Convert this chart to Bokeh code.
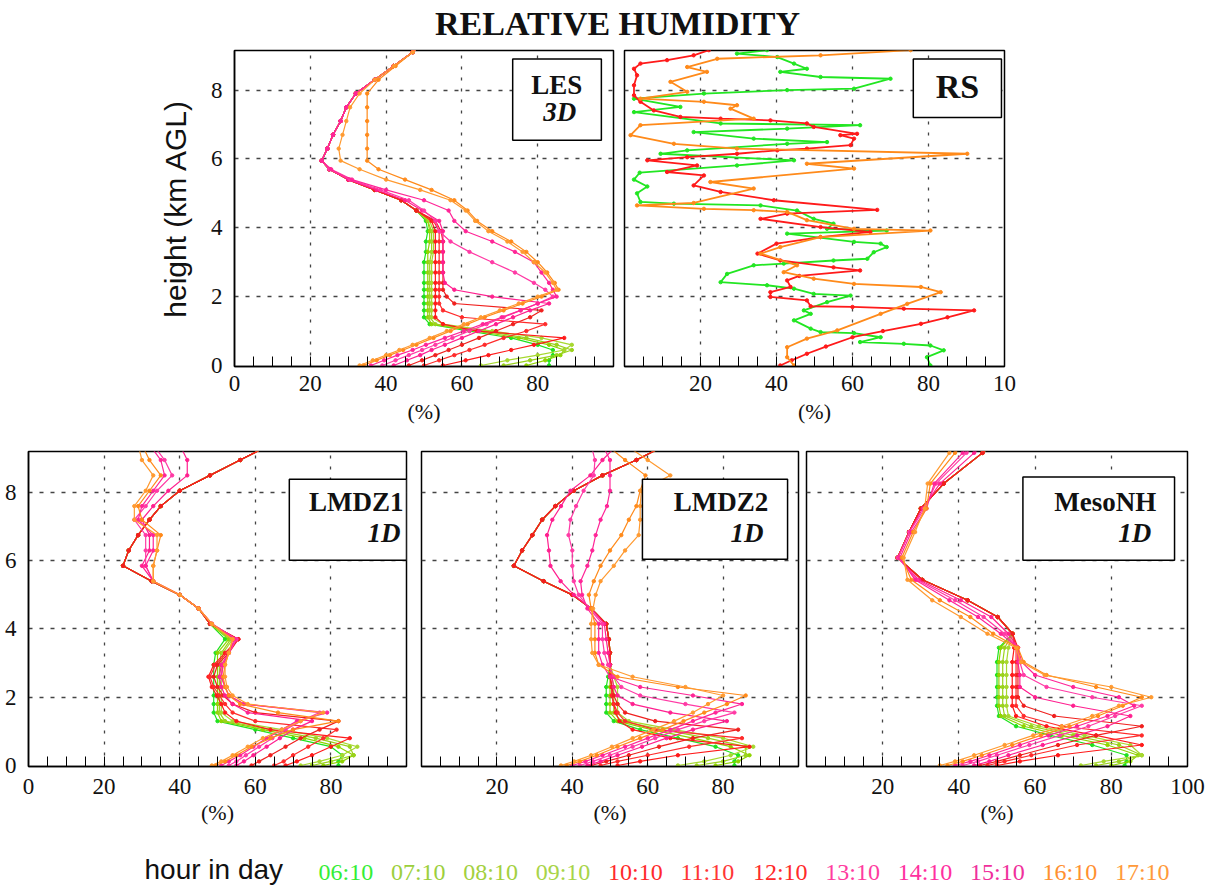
from bokeh.plotting import figure
from bokeh.models import Range1d, FixedTicker, Label, BoxAnnotation
from bokeh.layouts import column, row
from bokeh.embed import file_html
from bokeh.resources import INLINE

SERIF = "Liberation Serif"
SANS = "Liberation Sans"

# ---------------- data ----------------
HOURS = ["06:10", "07:10", "08:10", "09:10", "10:10", "11:10",
         "12:10", "13:10", "14:10", "15:10", "16:10", "17:10"]
COLORS = ["#1fe21f", "#8fd400", "#9ad21c", "#a6d82e", "#ff1a1a", "#ff2b2b",
          "#f0201e", "#ff1f8f", "#ff3aa5", "#ff2597", "#ff8a1a", "#ff9a30"]
LEGEND_COLORS = ["#35ee35", "#9ccf3c", "#a3d040", "#a8d448", "#ff2a2a", "#ff3636",
                 "#ff2a2a", "#ff3ca0", "#ff30a0", "#f0309c", "#ff9030", "#ff9a3a"]

# LES 3D (height km, RH % per hour)
LES_Z = [0.0, 0.15, 0.3, 0.45, 0.6, 0.8, 1.0, 1.2, 1.4, 1.6, 1.8, 2.0, 2.2, 2.4, 2.7,
         3.0, 3.3, 3.6, 3.9, 4.2, 4.5, 4.8, 5.1, 5.4, 5.7, 5.95, 6.3, 6.7, 7.1, 7.5,
         7.9, 8.3, 8.7, 9.1, 9.4]
LES_RH = [
    [83, 83, 84, 84, 80, 73, 62, 51.5, 50, 50, 50, 50, 50, 50, 50, 50, 50.5, 50.5, 51, 50.5,
     48, 44, 37, 30, 25, 23, 24.5, 26, 28, 29.5, 32, 37, 42, 47, 50],
    [77, 82, 86, 87, 83, 75, 64, 52, 51, 51, 51, 51, 51, 51, 51, 51, 51, 51.5, 51.5, 51,
     48, 44, 37, 30, 25, 23, 24.5, 26, 28, 29.5, 32, 37, 42, 47, 50],
    [71, 78, 85, 89, 85, 77, 66, 53, 51.5, 51.5, 51.5, 51.5, 51.5, 51.5, 51.5, 51.5, 52, 52, 52, 51,
     48, 44, 37, 30, 25, 23, 24.5, 26, 28, 29.5, 32, 37, 42, 47, 50],
    [65, 72, 80, 87, 89, 81, 68, 55, 52, 52, 52, 52, 52, 52, 52, 52, 52.5, 52.5, 52.5, 51.5,
     48, 44, 37, 30, 25, 23, 24.5, 26, 28, 29.5, 32, 37, 42, 47, 50],
    [55, 61, 67, 73, 79, 87, 64, 55, 53, 53, 53, 53, 53, 53, 53, 53, 53, 53, 53, 52,
     48, 44, 37, 30, 25, 23, 24.5, 26, 28, 29.5, 32, 37, 42, 47, 50],
    [50, 54, 58, 62, 66, 71, 77, 82, 60, 55, 54, 54, 54, 54, 54, 54, 54, 54, 54, 52.5,
     48, 44, 37, 30, 25, 23, 24.5, 26, 28, 29.5, 32, 37, 42, 47, 50],
    [46, 49.5, 53, 56.5, 60, 64.5, 69, 73.5, 78, 81, 58, 56, 55, 55, 55, 55, 55, 55, 54.5, 53,
     48, 44, 37, 30, 25, 23, 24.5, 26, 28, 29.5, 32, 37, 42, 47, 50],
    [42, 45.5, 49, 52, 55.5, 60, 64.5, 69, 73.5, 78, 83, 68, 58, 55.5, 55, 55, 55, 55, 55, 54,
     49.5, 45, 37.5, 30, 25, 23, 24.5, 26, 28, 29.5, 32, 37, 42, 47, 50],
    [39, 42.5, 46, 49.5, 53, 57.5, 62, 66.5, 71, 75.5, 80, 84, 82, 79, 74, 68, 62, 57, 54, 53,
     50, 46, 38.5, 30.5, 25, 23, 24.5, 26, 28, 29.5, 32, 37, 42, 47, 50],
    [36, 39.5, 43, 47, 50.5, 55.5, 60.5, 65.5, 70.5, 75.5, 80, 85, 84, 83, 81, 79, 74, 68, 61, 58,
     56.5, 50, 40, 31, 25.5, 23, 24.5, 26, 28, 29.5, 32, 37, 42, 47, 50],
    [34, 37.5, 41, 44.5, 48, 52.5, 57, 61.5, 66, 71, 76, 81, 85.5, 84.5, 82.5, 80, 77, 73, 68, 64,
     61.5, 58, 52, 45, 38, 35, 35, 35, 35, 35, 35, 38, 42.5, 47, 50],
    [33, 36.5, 40, 43.5, 47, 51.5, 56, 60.5, 65, 70, 75, 80, 85, 84, 82, 79, 76, 72, 67, 63.5,
     61, 57, 49, 40, 33, 28, 27.5, 28.5, 29.5, 30.5, 33, 37, 42, 47, 50],
]

# Radiosondes (three launches)
RS_GREEN_RH = [80.5, 79.6, 84, 80.5, 73.5, 62, 67.4, 60.4, 51.6, 49, 44.6, 49, 47.2, 53.3, 59.5,
               49.8, 44.6, 37.5, 25.3, 27, 34, 41.9, 55, 63.9, 65.6, 69, 67.4, 60.4, 42.8, 69,
               53.3, 55, 49.8, 45.4, 35.8, 13, 4.2, 3.3, 6, 2.5, 4, 29.6, 44.6, 9.5, 16.5,
               42.8, 53.3, 34, 18.2, 42.8, 62, 25.3, 2.5, 14.7, 2.5, 20.9, 42.8, 60.4, 70, 51.6,
               41, 48, 44.6, 40.2, 29.6, 37.5]
RS_GREEN_Z = [0.0, 0.24, 0.44, 0.58, 0.63, 0.68, 0.82, 0.94, 0.97, 1.07, 1.31, 1.5, 1.6, 1.84, 2.03,
              2.08, 2.23, 2.33, 2.42, 2.66, 2.91, 2.96, 3.05, 3.1, 3.29, 3.44, 3.54, 3.59, 3.83, 3.92,
              3.97, 4.12, 4.26, 4.5, 4.65, 4.7, 4.75, 5.0, 5.2, 5.4, 5.6, 5.81, 5.96, 6.15, 6.25,
              6.44, 6.49, 6.59, 6.78, 6.88, 6.98, 7.03, 7.36, 7.51, 7.75, 7.9, 8.0, 8.04, 8.33, 8.38,
              8.53, 8.62, 8.77, 8.96, 9.06, 9.16]
RS_RED_RH = [41, 44, 48, 53, 60, 68, 78, 85, 92, 73.5, 60, 49, 48, 38.4, 38.4, 43.7, 42.8, 46, 62,
             55, 41, 35, 40, 51.6, 64.7, 51.6, 35.8, 42.8, 66.5, 39.3, 25.3, 18.2, 20.9, 11.2, 19.1,
             6, 16.5, 29.6, 40.2, 48, 59.5, 60.4, 56.8, 61.2, 49.8, 48, 38.4, 25.3, 14.7, 7.7, 4.2,
             2.5, 2.5, 3.3, 2.5, 4.2, 11.2, 18.2, 22.2]
RS_RED_Z = [0.0, 0.15, 0.34, 0.55, 0.82, 1.0, 1.21, 1.4, 1.6, 1.65, 1.7, 1.72, 1.89, 1.99, 2.13, 2.28,
            2.47, 2.6, 2.76, 2.85, 3.05, 3.25, 3.54, 3.73, 3.88, 4.02, 4.26, 4.41, 4.52, 4.8, 5.04,
            5.23, 5.52, 5.62, 5.81, 5.96, 6.05, 6.15, 6.25, 6.3, 6.4, 6.59, 6.69, 6.73, 6.93, 7.03,
            7.12, 7.17, 7.22, 7.41, 7.66, 7.85, 8.14, 8.43, 8.62, 8.77, 8.87, 9.01, 9.16]
RS_ORANGE_RH = [44.6, 42.8, 42.8, 48, 56, 67.4, 74.4, 83.2, 78, 60.4, 49.8, 41.9, 45.4, 35.8, 41,
                51.6, 80.5, 60.4, 48, 42.8, 34, 20.9, 3.3, 18.2, 34, 22.6, 60.4, 48, 90.2, 29.6,
                13, 1.6, 4.2, 34, 27.9, 29.6, 20.9, 4.2, 16.5, 12.1, 21.7, 16.5, 24.4, 51.6, 75.3]
RS_ORANGE_Z = [0.0, 0.24, 0.53, 0.78, 1.02, 1.5, 1.79, 2.13, 2.28, 2.37, 2.52, 2.71, 2.91, 3.25, 3.44,
               3.73, 3.92, 3.97, 4.22, 4.46, 4.51, 4.55, 4.65, 4.72, 5.14, 5.33, 5.72, 5.86, 6.15, 6.3,
               6.44, 6.69, 6.98, 7.17, 7.46, 7.56, 7.66, 7.75, 7.95, 8.24, 8.53, 8.67, 8.91, 9.01, 9.16]

# LMDZ single-column model levels (km)
LMDZ_Z = [0.0, 0.12, 0.3, 0.55, 0.8, 1.05, 1.3, 1.55, 1.8, 2.05, 2.3, 2.6, 2.95, 3.3, 3.7,
          4.15, 4.6, 5.0, 5.4, 5.85, 6.3, 6.75, 7.2, 7.6, 8.05, 8.5, 8.95, 9.4]
LMDZ1_RH = [
    [82, 82, 83, 80, 70, 60, 50, 49, 49, 49, 49, 49, 49, 49.5, 52,
     48, 45, 40, 32.6, 25, 26.5, 29, 32, 35, 40, 48, 56, 64],
    [78, 83, 86, 82, 73, 62, 51, 50, 50, 50, 50, 50, 50, 50, 53,
     48, 45, 40, 32.6, 25, 26.5, 29, 32, 35, 40, 48, 56, 64],
    [75, 80, 86, 85, 76, 64, 52, 50.5, 50.5, 50.5, 50.5, 50.5, 50.5, 51, 53.5,
     48, 45, 40, 32.6, 25, 26.5, 29, 32, 35, 40, 48, 56, 64],
    [72, 77, 83, 87, 79, 67, 54, 51, 51, 51, 51, 51, 51, 51.5, 54,
     48, 45, 40, 32.6, 25, 26.5, 29, 32, 35, 40, 48, 56, 64],
    [68, 71, 75, 80, 85, 64, 55, 52, 51, 49.8, 48.5, 47.6, 49, 52, 55.5,
     48, 45, 40, 32.6, 25, 26.5, 29, 32, 35, 40, 48, 56, 64],
    [65, 67.5, 70, 74, 78, 81.5, 60, 54, 52, 50.5, 49, 48, 49.5, 52.5, 55.5,
     48, 45, 40, 32.6, 25, 26.5, 29, 32, 35, 40, 48, 56, 64],
    [59, 61, 64, 68, 72, 77, 82, 60, 54, 51.5, 50, 49, 50, 53, 55.5,
     48, 45, 40, 32.6, 25, 26.5, 29, 32, 35, 40, 48, 56, 64],
    [55, 57, 59.5, 63, 66.5, 70, 75, 58, 54, 52, 51, 50.5, 51, 53, 55,
     48.5, 45, 40, 33, 30, 32, 32, 30, 33, 37, 42, 42, 40],
    [53, 55, 57.5, 61, 64.5, 68, 72, 77, 57, 53, 52, 51, 51.5, 53, 55,
     48.5, 45, 40, 33, 31, 31, 31, 28, 31, 34, 38, 36, 33],
    [51, 53, 56, 59.5, 63, 67, 71, 79, 57, 53, 52, 51, 51.5, 53, 54.5,
     48.5, 45, 40, 33, 31, 33, 33, 29, 30, 33, 36, 35, 32],
    [49.5, 52, 55, 59, 64, 70, 82, 66, 56, 53, 52, 51.5, 52, 53, 54,
     48.5, 45, 40, 33, 33, 34, 35, 30, 29, 32, 35, 32, 30],
    [48.5, 51, 54, 58, 62, 67, 72, 78, 58, 54, 52.5, 52, 52, 53, 54,
     48.5, 45, 40, 33, 33, 34, 34, 28, 28, 31, 33, 30, 29],
]
LMDZ2_RH = [
    [83, 83, 84, 78, 68, 58, 51, 49, 49, 49, 49, 49.5,
     50, 50, 49.7, 49, 45, 40, 32.4, 24.5, 26.7, 29.4, 32, 35.5, 40.4, 48, 57, 65],
    [78, 84, 87, 82, 72, 61, 52, 50, 50, 50, 50, 50,
     50, 50, 49.7, 49, 45, 40, 32.4, 24.5, 26.7, 29.4, 32, 35.5, 40.4, 48, 57, 65],
    [73, 80, 86, 86, 76, 64, 53, 51, 51, 51, 51, 50.5,
     50, 50, 49.7, 49, 45, 40, 32.4, 24.5, 26.7, 29.4, 32, 35.5, 40.4, 48, 57, 65],
    [68, 75, 82, 88, 80, 67, 55, 52, 52, 52, 52, 51,
     50, 50, 49.7, 49, 45, 40, 32.4, 24.5, 26.7, 29.4, 32, 35.5, 40.4, 48, 57, 65],
    [52, 58, 68, 87, 66, 56, 52.5, 51.5, 51, 50.5, 50.5, 50,
     50, 50, 49.7, 49, 45, 40, 32.4, 24.5, 26.7, 29.4, 32, 35.5, 40.4, 48, 57, 65],
    [47.5, 52, 60, 71, 85, 62, 54, 52, 51, 50.5, 50.5, 50,
     50, 50, 49.7, 49, 45, 40, 32.4, 24.5, 26.7, 29.4, 32, 35.5, 40.4, 48, 57, 65],
    [45, 49, 55, 63, 72, 84, 62, 54, 52, 51, 50.5, 50,
     50, 50, 49.7, 49, 45, 40, 32.4, 24.5, 26.7, 29.4, 32, 35.5, 40.4, 48, 57, 65],
    [44, 47.5, 52, 58.5, 65, 72, 81, 66, 56, 52, 51, 50.5,
     50, 49.5, 49, 48.5, 45, 40.4, 36.9, 34.2, 33.8, 33.3, 34.7, 37, 39.5, 44.8, 48, 52],
    [42, 45.5, 50, 56, 62, 68, 75, 83, 70, 58, 53, 51,
     49.5, 48.5, 48, 48, 44.5, 41.7, 40.4, 40, 40, 39, 39.5, 41, 43, 45.7, 46, 45],
    [40, 43.5, 48, 54, 60, 66, 72, 78, 85, 72, 58, 50,
     48, 47, 47, 47, 44, 42.6, 42.2, 44, 45.3, 46.2, 47.5, 49.2, 50, 50, 50, 48],
    [38.5, 42, 46.5, 52, 58, 64, 69.5, 75, 81, 86, 68, 52,
     47, 46, 46, 46, 45, 44.4, 45.7, 47.5, 50, 53, 55, 57, 58, 59.4, 54, 49],
    [37, 40.5, 45, 50.5, 56, 61.5, 67, 72, 76, 80, 70, 56,
     47, 45.3, 45, 45, 45.5, 46.2, 47.5, 51, 54, 57.6, 58, 58, 58.3, 66, 60, 54],
]

# MesoNH single-column levels (km)
MESONH_Z = [0.0, 0.12, 0.3, 0.6, 0.88, 1.15, 1.45, 1.75, 2.0, 2.3, 2.65, 3.03, 3.45,
            3.86, 4.35, 4.84, 5.44, 6.09, 6.84, 7.53, 8.26, 9.16, 9.6]
MESONH_RH = [
    [83.5, 84, 84, 75, 64, 55, 50.5, 50, 50, 50, 50, 50, 50.5,
     54.1, 50.2, 42.3, 30.4, 23.9, 26.9, 30, 36, 46.2, 51],
    [80, 85, 87, 79, 67, 57, 51, 50.5, 50.5, 50.5, 50.5, 50.5, 51,
     54.1, 50.2, 42.3, 30.4, 23.9, 26.9, 30, 36, 46.2, 51],
    [76, 82, 88, 82, 70, 59, 52, 51.5, 51.5, 51.5, 51.5, 51.5, 52,
     54.1, 50.2, 42.3, 30.4, 23.9, 26.9, 30, 36, 46.2, 51],
    [72, 78, 88, 85, 73, 61, 53, 52.5, 52.5, 52.5, 52.5, 52.5, 53,
     54.1, 50.2, 42.3, 30.4, 23.9, 26.9, 30, 36, 46.2, 51],
    [50, 56, 66, 88, 76, 63, 55, 54, 54, 54, 54, 54, 54.5,
     54.1, 50.2, 42.3, 30.4, 23.9, 26.9, 30, 36, 46.2, 51],
    [47.5, 52, 59, 71, 88, 67, 57, 55, 55, 55, 55, 55, 55,
     54.1, 50.2, 42.3, 30.4, 23.9, 26.9, 30, 36, 46.2, 51],
    [45.5, 50, 56, 66, 76, 88, 65, 57, 55.5, 55.5, 55.5, 55.5, 55.5,
     54.1, 50.2, 42.3, 30.4, 23.9, 26.9, 30, 36, 46.2, 51],
    [44, 48, 53, 62, 71, 79, 85, 70, 60, 56, 56, 55.5, 55.5,
     53, 48.5, 40.5, 29.5, 24, 27, 30.5, 35, 44, 49],
    [41, 45, 50, 58.5, 66.5, 74, 81, 88, 75, 63, 57, 56, 55.5,
     52, 46.5, 39, 29, 24, 27, 31, 34, 42, 47],
    [39, 43, 48, 56, 63.5, 71, 79, 86, 82, 70, 60, 56.5, 55.5,
     51, 45, 37.5, 28.5, 24.5, 27.5, 31.5, 33.5, 41, 45],
    [37, 41, 46, 54, 61.5, 69, 76.5, 83, 88, 76, 63, 57, 55.5,
     49, 43, 35, 27.5, 25, 28, 31.5, 32.5, 39, 43],
    [35, 39, 44, 52, 59.5, 67, 75, 82, 90.5, 80, 62.5, 56.3, 55,
     47.5, 40.5, 33, 26.5, 25.5, 28.5, 31, 31.8, 37.5, 41],
]

Y_TICKS = [0, 2, 4, 6, 8]
GRID_X = [20, 40, 60, 80]
GRID_Y = [2, 4, 6, 8]
MINOR_X = [v for v in range(5, 100, 5) if v % 20 != 0]


# ---------------- helpers ----------------
def make_panel(frame_w, frame_h, bl, br, bt, bb, ymax, xticks, with_y,
               tick_std, lab_std, ylabel=None, overrides=None):
    p = figure(frame_width=frame_w, frame_height=frame_h,
               min_border_left=bl, min_border_right=br,
               min_border_top=bt, min_border_bottom=bb,
               x_range=Range1d(0, 100), y_range=Range1d(-0.03, ymax),
               output_backend="svg", toolbar_location=None, title_location=None,
               y_axis_location="left" if with_y else None)
    p.background_fill_color = "white"
    p.border_fill_color = "white"
    p.outline_line_color = "black"
    p.outline_line_width = 1.5
    p.outline_line_alpha = 1.0

    xa = p.xaxis[0]
    xa.ticker = FixedTicker(ticks=xticks, minor_ticks=MINOR_X)
    xa.major_tick_in = 10
    xa.major_tick_out = 0
    xa.minor_tick_in = 10
    xa.minor_tick_out = 0
    xa.major_tick_line_color = "black"
    xa.minor_tick_line_color = "black"
    xa.axis_line_color = "black"
    xa.axis_line_width = 1.5
    xa.major_label_text_font = SERIF
    xa.major_label_text_font_size = "23px"
    xa.major_label_text_color = "#111111"
    xa.major_label_standoff = tick_std
    xa.axis_label = "(%)"
    xa.axis_label_text_font = SERIF
    xa.axis_label_text_font_size = "22px"
    xa.axis_label_text_font_style = "normal"
    xa.axis_label_text_color = "#111111"
    xa.axis_label_standoff = lab_std
    if overrides:
        xa.major_label_overrides = overrides

    if with_y:
        ya = p.yaxis[0]
        ya.ticker = FixedTicker(ticks=Y_TICKS)
        ya.major_tick_line_color = None
        ya.minor_tick_line_color = None
        ya.axis_line_color = "black"
        ya.axis_line_width = 1.5
        ya.major_label_text_font = SERIF
        ya.major_label_text_font_size = "23px"
        ya.major_label_text_color = "#111111"
        ya.major_label_standoff = 6
        if ylabel:
            ya.axis_label = ylabel
            ya.axis_label_text_font = SANS
            ya.axis_label_text_font_size = "30px"
            ya.axis_label_text_font_style = "normal"
            ya.axis_label_text_color = "#111111"
            ya.axis_label_standoff = 16

    p.xgrid.ticker = FixedTicker(ticks=GRID_X)
    p.ygrid.ticker = FixedTicker(ticks=GRID_Y)
    p.xgrid.grid_line_color = "#444444"
    p.ygrid.grid_line_color = "#444444"
    p.xgrid.grid_line_width = 1.3
    p.ygrid.grid_line_width = 1.3
    p.xgrid.grid_line_dash = "3 8"
    p.ygrid.grid_line_dash = "4 7"
    return p


def draw_profiles(p, z, rh_rows):
    for rh, col in zip(rh_rows, COLORS):
        p.line(rh, z, line_color=col, line_width=1.2)
        p.scatter(rh, z, marker="circle", size=3.4, fill_color=col, line_color=col)


def tag_box(p, left, right, bottom, top):
    p.add_layout(BoxAnnotation(left=left, right=right, bottom=bottom, top=top,
                               fill_color="white", fill_alpha=1.0,
                               line_color="black", line_width=1.5, line_alpha=1.0))


def tag_text(p, x, y, text, size, style, align):
    p.add_layout(Label(x=x, y=y, text=text, text_align=align, text_baseline="middle",
                       text_font=SERIF, text_font_size=size, text_font_style=style,
                       text_color="#111111"))


# ---------------- title ----------------
tf = figure(width=1216, height=46, x_range=Range1d(0, 1216), y_range=Range1d(0, 46),
            output_backend="svg", toolbar_location=None, title_location=None,
            x_axis_location=None, y_axis_location=None, min_border=0)
tf.outline_line_color = None
tf.xgrid.visible = False
tf.ygrid.visible = False
tf.add_layout(Label(x=617, y=23.5, text="RELATIVE HUMIDITY", text_align="center",
                    text_baseline="middle", text_font=SERIF, text_font_style="bold",
                    text_font_size="34px", text_color="#111111"))

# ---------------- top row ----------------
les = make_panel(379, 316, 234, 5, 4, 64, 9.15, [0, 20, 40, 60, 80], True, 9, 5,
                 ylabel="height (km AGL)")
draw_profiles(les, LES_Z, LES_RH)
tag_box(les, 73.4, 96.8, 6.54, 8.9)
tag_text(les, 85, 8.16, "LES", "27px", "bold", "center")
tag_text(les, 85.8, 7.36, "3D", "27px", "bold italic", "center")

rs = make_panel(380, 316, 6, 212, 4, 64, 9.15, [20, 40, 60, 80, 100], False, 9, 5,
                overrides={100: "10"})
for rh, z, col in [(RS_GREEN_RH, RS_GREEN_Z, "#22e622"),
                   (RS_RED_RH, RS_RED_Z, "#ff1a1a"),
                   (RS_ORANGE_RH, RS_ORANGE_Z, "#ff8a1a")]:
    rs.line(rh, z, line_color=col, line_width=1.8)
    rs.scatter(rh, z, marker="circle", size=3.4, fill_color=col, line_color=col)
tag_box(rs, 76, 99.2, 7.2, 8.9)
tag_text(rs, 87.6, 8.10, "RS", "34px", "bold", "center")

# ---------------- bottom row ----------------
l1 = make_panel(378, 315, 28, 13, 21, 60, 9.2, [0, 20, 40, 60, 80], True, 12, 3)
draw_profiles(l1, LMDZ_Z, LMDZ1_RH)
tag_box(l1, 69, 100, 6.01, 8.39)
tag_text(l1, 99.2, 7.72, "LMDZ1", "27px", "bold", "right")
tag_text(l1, 98.4, 6.81, "1D", "27px", "bold italic", "right")

l2 = make_panel(377, 315, 2, 4, 21, 60, 9.2, [20, 40, 60, 80], False, 12, 3)
draw_profiles(l2, LMDZ_Z, LMDZ2_RH)
tag_box(l2, 58.6, 97.1, 6.04, 8.39)
tag_text(l2, 92, 7.72, "LMDZ2", "27px", "bold", "right")
tag_text(l2, 90.7, 6.81, "1D", "27px", "bold italic", "right")

mn = make_panel(381, 315, 4, 29, 21, 60, 9.2, [20, 40, 60, 80, 100], False, 12, 3)
draw_profiles(mn, MESONH_Z, MESONH_RH)
tag_box(mn, 56.8, 96.6, 6.01, 8.45)
tag_text(mn, 91.8, 7.72, "MesoNH", "27px", "bold", "right")
tag_text(mn, 90.5, 6.81, "1D", "27px", "bold italic", "right")

# ---------------- hour legend ----------------
lf = figure(width=1216, height=61, x_range=Range1d(0, 1216), y_range=Range1d(0, 61),
            output_backend="svg", toolbar_location=None, title_location=None,
            x_axis_location=None, y_axis_location=None, min_border=0)
lf.outline_line_color = None
lf.xgrid.visible = False
lf.ygrid.visible = False
lf.add_layout(Label(x=144, y=19, text="hour in day", text_align="left",
                    text_baseline="middle", text_font=SANS, text_font_size="28px",
                    text_color="#111111"))
for i, (h, c) in enumerate(zip(HOURS, LEGEND_COLORS)):
    lf.add_layout(Label(x=318 + 72.4 * i, y=17, text=h, text_align="left",
                        text_baseline="middle", text_font=SERIF,
                        text_font_size="24px", text_color=c))

layout = column(tf, row(les, rs), row(l1, l2, mn), lf)
open("out.html", "w").write(file_html(layout, INLINE, title="Relative humidity"))
